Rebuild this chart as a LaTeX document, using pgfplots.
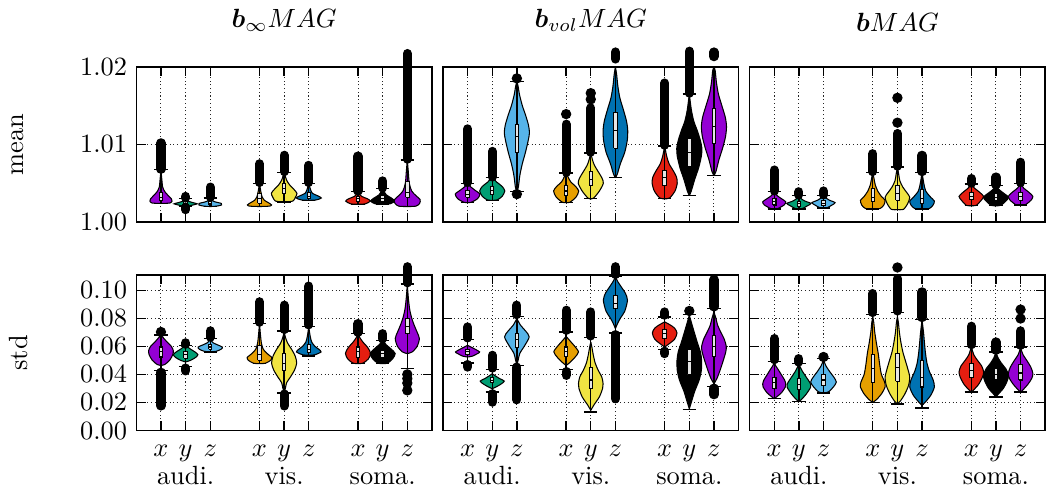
\documentclass[border=0pt]{standalone}
\usepackage{pgfplots}
\pgfplotsset{compat=1.18}
\usepackage{amsmath}
\usepackage{bm}
\definecolor{cVi}{RGB}{148,0,211}
\definecolor{cGr}{RGB}{0,158,115}
\definecolor{cSb}{RGB}{86,180,233}
\definecolor{cOr}{RGB}{230,159,0}
\definecolor{cYe}{RGB}{240,228,66}
\definecolor{cBl}{RGB}{0,114,178}
\definecolor{cRe}{RGB}{229,30,16}
\definecolor{cBk}{RGB}{0,0,0}
% violin half-shapes: #1 centre, #2 colour, #3 rows "y w\\"
\newcommand{\vio}[3]{%
  \addplot[fill=#2, draw=black, line width=0.4pt, smooth, tension=0.45] table[row sep=\\, x expr={#1+\thisrow{w}}, y=y] {y w\\ #3};
  \addplot[fill=#2, draw=black, line width=0.4pt, smooth, tension=0.45] table[row sep=\\, x expr={#1-\thisrow{w}}, y=y] {y w\\ #3};
}
% box: #1 centre, #2 lo, #3 q1, #4 med, #5 q3, #6 hi
\newcommand{\bx}[6]{%
  \addplot[black, line width=0.5pt] table[row sep=\\, x expr={#1+\thisrow{d}}, y=y] {d y\\ 0 #2\\ 0 #6\\};
  \addplot[black, line width=0.5pt] table[row sep=\\, x expr={#1+\thisrow{d}}, y=y] {d y\\ -0.27 #2\\ 0.27 #2\\};
  \addplot[black, line width=0.5pt] table[row sep=\\, x expr={#1+\thisrow{d}}, y=y] {d y\\ -0.27 #6\\ 0.27 #6\\};
  \addplot[draw=black, fill=white!80!gray, line width=0.4pt] table[row sep=\\, x expr={#1+\thisrow{d}}, y=y] {d y\\ -0.07 #3\\ 0.07 #3\\ 0.07 #5\\ -0.07 #5\\ -0.07 #3\\};
  \addplot[black, line width=0.4pt] table[row sep=\\, x expr={#1+\thisrow{d}}, y=y] {d y\\ -0.07 #4\\ 0.07 #4\\};
}
% outlier run: #1 centre, #2 from, #3 to
\newcommand{\ob}[3]{%
  \addplot[black, line width=3.5pt, line cap=round] table[row sep=\\, x expr={#1}, y=y] {y\\ #2\\ #3\\};
}
% single outliers
\newcommand{\op}[2]{%
  \addplot[black, only marks, mark=*, mark size=1.75pt] table[row sep=\\, x expr={#1}, y=y] {y\\ #2};
}
\pgfplotsset{
  vstyle/.style={
    scale only axis, width=112.1pt, height=58.9pt,
    xmin=0, xmax=12, xtick={1,2,3,5,6,7,9,10,11},
    grid=major, major grid style={densely dotted, black!85},
    axis line style={line width=0.6pt}, tick style={black, line width=0.5pt},
    major tick length=3.5pt, clip=false,
    every axis title/.style={at={(0.5,1)}, anchor=south, yshift=10pt},
    every axis y label/.style={at={(axis description cs:-0.40,0.5)}, rotate=90, anchor=center},
    yticklabel style={/pgf/number format/.cd, fixed, fixed zerofill, precision=2},
  },
  toprow/.style={vstyle, ymin=1.00, ymax=1.02, ytick={1.00,1.01,1.02}, xticklabels={}},
  botrow/.style={vstyle, ymin=0, ymax=0.1107, ytick={0,0.02,0.04,0.06,0.08,0.10},
    xticklabels={{$x$\\[-1.5pt]\strut},{$y$\\[-1.5pt]audi.},{$z$\\[-1.5pt]\strut},{$x$\\[-1.5pt]\strut},{$y$\\[-1.5pt]vis.},{$z$\\[-1.5pt]\strut},{$x$\\[-1.5pt]\strut},{$y$\\[-1.5pt]soma.},{$z$\\[-1.5pt]\strut}},
    xticklabel style={align=center, anchor=north, yshift=-2pt}},
}
\begin{document}
\begin{tikzpicture}
%================ top-left: b_inf mean
\begin{axis}[toprow, at={(0pt,79.04pt)}, anchor=south west, title={$\bm{b}_{\infty}MAG$}, ylabel={mean}]
\vio{1}{cVi}{1.0024 0\\ 1.00245 0.36\\ 1.0027 0.45\\ 1.0030 0.42\\ 1.0034 0.3\\ 1.0039 0.16\\ 1.0045 0.07\\ 1.0055 0.035\\ 1.0067 0\\}
\bx{1}{1.0024}{1.0028}{1.0032}{1.0038}{1.00675}
\ob{1}{1.0068}{1.0102}
\vio{2}{cGr}{1.0020 0\\ 1.00205 0.1\\ 1.0022 0.3\\ 1.00235 0.47\\ 1.0025 0.3\\ 1.0027 0.1\\ 1.0029 0\\}
\bx{2}{1.0020}{1.0022}{1.0024}{1.0026}{1.0030}
\ob{2}{1.0031}{1.0033}
\ob{2}{1.0016}{1.0019}
\vio{3}{cSb}{1.0020 0\\ 1.00205 0.25\\ 1.0022 0.46\\ 1.0024 0.45\\ 1.0026 0.2\\ 1.0028 0.06\\ 1.0031 0\\}
\bx{3}{1.0020}{1.0022}{1.0024}{1.0026}{1.0031}
\ob{3}{1.0032}{1.0045}
\vio{5}{cOr}{1.0020 0\\ 1.00205 0.4\\ 1.0022 0.49\\ 1.0025 0.36\\ 1.0028 0.2\\ 1.0033 0.1\\ 1.0040 0.05\\ 1.0050 0\\}
\bx{5}{1.0020}{1.0024}{1.0030}{1.0037}{1.0050}
\ob{5}{1.0051}{1.0075}
\vio{6}{cYe}{1.0026 0\\ 1.0027 0.35\\ 1.0032 0.46\\ 1.0037 0.52\\ 1.0042 0.4\\ 1.0048 0.22\\ 1.0054 0.1\\ 1.0060 0.04\\ 1.0064 0\\}
\bx{6}{1.0026}{1.0037}{1.0043}{1.0050}{1.0064}
\ob{6}{1.0065}{1.0086}
\vio{7}{cBl}{1.0028 0\\ 1.00285 0.3\\ 1.0031 0.51\\ 1.0034 0.35\\ 1.0037 0.15\\ 1.0042 0.07\\ 1.0050 0\\}
\bx{7}{1.0028}{1.0030}{1.0033}{1.0038}{1.0050}
\ob{7}{1.0051}{1.0073}
\vio{9}{cRe}{1.0023 0\\ 1.00235 0.3\\ 1.0027 0.5\\ 1.0030 0.38\\ 1.0033 0.15\\ 1.0036 0.05\\ 1.0039 0\\}
\bx{9}{1.0023}{1.0026}{1.0030}{1.0033}{1.0039}
\ob{9}{1.0040}{1.0085}
\vio{10}{cBk}{1.0023 0\\ 1.00235 0.3\\ 1.0027 0.49\\ 1.0031 0.35\\ 1.0035 0.15\\ 1.0040 0.05\\ 1.0043 0\\}
\bx{10}{1.0023}{1.0026}{1.0030}{1.0034}{1.0043}
\ob{10}{1.0044}{1.0053}
\vio{11}{cVi}{1.0020 0\\ 1.00205 0.35\\ 1.0024 0.5\\ 1.0029 0.52\\ 1.0034 0.35\\ 1.0040 0.18\\ 1.0050 0.08\\ 1.0065 0.04\\ 1.0080 0\\}
\bx{11}{1.0020}{1.0032}{1.0038}{1.0052}{1.0080}
\ob{11}{1.0081}{1.0217}
\end{axis}
%================ top-middle: b_vol mean
\begin{axis}[toprow, at={(116.28pt,79.04pt)}, anchor=south west, title={$\bm{b}_{vol}MAG$}, yticklabels={}]
\vio{1}{cVi}{1.0025 0\\ 1.00255 0.15\\ 1.0030 0.4\\ 1.0036 0.5\\ 1.0041 0.3\\ 1.0046 0.1\\ 1.0050 0\\}
\bx{1}{1.0025}{1.0032}{1.0035}{1.0041}{1.0050}
\ob{1}{1.0051}{1.0120}
\vio{2}{cGr}{1.0028 0\\ 1.00285 0.2\\ 1.0033 0.4\\ 1.0040 0.51\\ 1.0046 0.4\\ 1.0051 0.2\\ 1.0055 0.08\\ 1.0057 0\\}
\bx{2}{1.0028}{1.0035}{1.0041}{1.0046}{1.0057}
\ob{2}{1.0058}{1.0091}
\vio{3}{cSb}{1.0039 0\\ 1.0045 0.06\\ 1.0060 0.12\\ 1.0075 0.22\\ 1.0090 0.35\\ 1.0105 0.46\\ 1.0115 0.51\\ 1.0125 0.47\\ 1.0138 0.35\\ 1.0150 0.22\\ 1.0165 0.1\\ 1.0175 0.05\\ 1.0181 0\\}
\bx{3}{1.0039}{1.0090}{1.0110}{1.0126}{1.0181}
\op{3}{1.0036\\ 1.0185\\}
\vio{5}{cOr}{1.0025 0\\ 1.00255 0.15\\ 1.0032 0.4\\ 1.0040 0.51\\ 1.0046 0.38\\ 1.0052 0.18\\ 1.0058 0.08\\ 1.0063 0\\}
\bx{5}{1.0025}{1.0034}{1.0040}{1.0047}{1.0063}
\ob{5}{1.0064}{1.0126}
\op{5}{1.0139\\}
\vio{6}{cYe}{1.0030 0\\ 1.0031 0.12\\ 1.0040 0.35\\ 1.0050 0.51\\ 1.0057 0.45\\ 1.0065 0.3\\ 1.0073 0.15\\ 1.0080 0.07\\ 1.0089 0\\}
\bx{6}{1.0030}{1.0047}{1.0055}{1.0065}{1.0089}
\ob{6}{1.0090}{1.0147}
\op{6}{1.0158\\ 1.0166\\}
\vio{7}{cBl}{1.0057 0\\ 1.0062 0.08\\ 1.0075 0.2\\ 1.0090 0.38\\ 1.0105 0.48\\ 1.0118 0.5\\ 1.0130 0.45\\ 1.0145 0.32\\ 1.0160 0.18\\ 1.0175 0.1\\ 1.0190 0.05\\ 1.0200 0\\}
\bx{7}{1.0057}{1.0095}{1.0118}{1.0141}{1.0200}
\ob{7}{1.0210}{1.0219}
\vio{9}{cRe}{1.0030 0\\ 1.0031 0.2\\ 1.0040 0.42\\ 1.0050 0.51\\ 1.0058 0.48\\ 1.0066 0.35\\ 1.0075 0.18\\ 1.0085 0.08\\ 1.0098 0\\}
\bx{9}{1.0030}{1.0047}{1.0057}{1.0067}{1.0098}
\ob{9}{1.0099}{1.0179}
\vio{10}{cBk}{1.0034 0\\ 1.0040 0.08\\ 1.0055 0.22\\ 1.0070 0.38\\ 1.0085 0.49\\ 1.0095 0.51\\ 1.0105 0.45\\ 1.0118 0.32\\ 1.0130 0.18\\ 1.0145 0.08\\ 1.0165 0\\}
\bx{10}{1.0034}{1.0071}{1.0090}{1.0108}{1.0165}
\ob{10}{1.0166}{1.0220}
\vio{11}{cVi}{1.0060 0\\ 1.0065 0.08\\ 1.0080 0.2\\ 1.0095 0.35\\ 1.0110 0.47\\ 1.0123 0.51\\ 1.0135 0.46\\ 1.0150 0.32\\ 1.0165 0.18\\ 1.0180 0.1\\ 1.0195 0.05\\ 1.0200 0\\}
\bx{11}{1.0060}{1.0101}{1.0123}{1.0146}{1.0200}
\ob{11}{1.0213}{1.0219}
\end{axis}
%================ top-right: b mean
\begin{axis}[toprow, at={(232.56pt,79.04pt)}, anchor=south west, title={$\bm{b}MAG$}, yticklabels={}]
\vio{1}{cVi}{1.0017 0\\ 1.00175 0.15\\ 1.0022 0.4\\ 1.0026 0.47\\ 1.0030 0.3\\ 1.0034 0.12\\ 1.0039 0\\}
\bx{1}{1.0017}{1.0022}{1.0026}{1.0030}{1.0039}
\ob{1}{1.0040}{1.0067}
\vio{2}{cGr}{1.0017 0\\ 1.00175 0.15\\ 1.0021 0.35\\ 1.0024 0.49\\ 1.0027 0.25\\ 1.0030 0.1\\ 1.0034 0\\}
\bx{2}{1.0017}{1.0020}{1.0024}{1.0027}{1.0034}
\ob{2}{1.0035}{1.0039}
\vio{3}{cSb}{1.0018 0\\ 1.00185 0.15\\ 1.0022 0.35\\ 1.0025 0.47\\ 1.0028 0.25\\ 1.0031 0.1\\ 1.0034 0\\}
\bx{3}{1.0018}{1.0021}{1.0024}{1.0028}{1.0034}
\ob{3}{1.0035}{1.0040}
\vio{5}{cOr}{1.0017 0\\ 1.00175 0.3\\ 1.0022 0.45\\ 1.0028 0.5\\ 1.0033 0.35\\ 1.0040 0.2\\ 1.0048 0.1\\ 1.0056 0.05\\ 1.0064 0\\}
\bx{5}{1.0017}{1.0026}{1.0032}{1.0043}{1.0064}
\ob{5}{1.0065}{1.0088}
\vio{6}{cYe}{1.0016 0\\ 1.00165 0.25\\ 1.0024 0.42\\ 1.0032 0.5\\ 1.0038 0.38\\ 1.0045 0.22\\ 1.0053 0.1\\ 1.0062 0.05\\ 1.0071 0\\}
\bx{6}{1.0016}{1.0028}{1.0037}{1.0047}{1.0071}
\ob{6}{1.0072}{1.0114}
\op{6}{1.0128\\ 1.0160\\}
\vio{7}{cBl}{1.0017 0\\ 1.00175 0.3\\ 1.0022 0.45\\ 1.0027 0.5\\ 1.0032 0.35\\ 1.0040 0.15\\ 1.0050 0.07\\ 1.0064 0\\}
\bx{7}{1.0017}{1.0024}{1.0030}{1.0042}{1.0064}
\ob{7}{1.0065}{1.0086}
\vio{9}{cRe}{1.0021 0\\ 1.00215 0.2\\ 1.0028 0.4\\ 1.0033 0.5\\ 1.0038 0.35\\ 1.0044 0.12\\ 1.0049 0\\}
\bx{9}{1.0021}{1.0029}{1.0033}{1.0038}{1.0049}
\ob{9}{1.0050}{1.0056}
\vio{10}{cBk}{1.0021 0\\ 1.00215 0.2\\ 1.0027 0.4\\ 1.0032 0.51\\ 1.0037 0.32\\ 1.0042 0.12\\ 1.0047 0\\}
\bx{10}{1.0021}{1.0028}{1.0032}{1.0037}{1.0047}
\ob{10}{1.0048}{1.0058}
\vio{11}{cVi}{1.0022 0\\ 1.00225 0.2\\ 1.0028 0.42\\ 1.0033 0.5\\ 1.0038 0.35\\ 1.0044 0.12\\ 1.0050 0\\}
\bx{11}{1.0022}{1.0028}{1.0033}{1.0038}{1.0050}
\ob{11}{1.0051}{1.0077}
\end{axis}
%================ bottom-left: b_inf std
\begin{axis}[botrow, at={(0pt,0pt)}, anchor=south west, ylabel={std}]
\vio{1}{cVi}{0.0464 0\\ 0.047 0.15\\ 0.050 0.35\\ 0.054 0.48\\ 0.057 0.5\\ 0.060 0.42\\ 0.063 0.25\\ 0.066 0.1\\ 0.068 0\\}
\bx{1}{0.0429}{0.0524}{0.0560}{0.0595}{0.0680}
\ob{1}{0.0175}{0.0415}
\op{1}{0.0702\\}
\vio{2}{cGr}{0.0488 0\\ 0.050 0.2\\ 0.052 0.4\\ 0.054 0.5\\ 0.056 0.38\\ 0.058 0.2\\ 0.0607 0\\}
\bx{2}{0.0457}{0.0515}{0.0540}{0.0565}{0.0607}
\ob{2}{0.0615}{0.0625}
\ob{2}{0.0425}{0.0445}
\vio{3}{cSb}{0.0560 0\\ 0.0565 0.25\\ 0.058 0.45\\ 0.0595 0.49\\ 0.061 0.3\\ 0.0625 0.12\\ 0.064 0.04\\ 0.0655 0\\}
\bx{3}{0.0560}{0.0580}{0.0595}{0.0610}{0.0655}
\ob{3}{0.0665}{0.0710}
\vio{5}{cOr}{0.0476 0\\ 0.048 0.25\\ 0.050 0.45\\ 0.052 0.5\\ 0.055 0.3\\ 0.058 0.15\\ 0.062 0.08\\ 0.068 0.04\\ 0.0762 0\\}
\bx{5}{0.0476}{0.0500}{0.0545}{0.0605}{0.0762}
\ob{5}{0.0772}{0.0917}
\vio{6}{cYe}{0.0274 0\\ 0.030 0.05\\ 0.034 0.1\\ 0.038 0.25\\ 0.043 0.42\\ 0.048 0.51\\ 0.053 0.45\\ 0.058 0.3\\ 0.062 0.15\\ 0.066 0.06\\ 0.0702 0\\}
\bx{6}{0.0267}{0.0429}{0.0480}{0.0548}{0.0710}
\ob{6}{0.0720}{0.0893}
\ob{6}{0.0175}{0.0260}
\vio{7}{cBl}{0.0536 0\\ 0.054 0.25\\ 0.056 0.5\\ 0.058 0.4\\ 0.060 0.25\\ 0.063 0.12\\ 0.067 0.06\\ 0.0738 0\\}
\bx{7}{0.0531}{0.0555}{0.0580}{0.0610}{0.0743}
\ob{7}{0.0753}{0.1029}
\vio{9}{cRe}{0.0476 0\\ 0.048 0.2\\ 0.051 0.42\\ 0.055 0.51\\ 0.059 0.4\\ 0.063 0.2\\ 0.066 0.08\\ 0.069 0\\}
\bx{9}{0.0476}{0.0520}{0.0560}{0.0595}{0.0690}
\ob{9}{0.0700}{0.0762}
\vio{10}{cBk}{0.0476 0\\ 0.048 0.2\\ 0.051 0.4\\ 0.0548 0.51\\ 0.058 0.35\\ 0.061 0.15\\ 0.0643 0\\}
\bx{10}{0.0476}{0.0520}{0.0548}{0.0570}{0.0643}
\ob{10}{0.0653}{0.0690}
\vio{11}{cVi}{0.0548 0\\ 0.056 0.2\\ 0.060 0.4\\ 0.0655 0.49\\ 0.070 0.4\\ 0.075 0.28\\ 0.080 0.18\\ 0.086 0.1\\ 0.093 0.05\\ 0.1036 0\\}
\bx{11}{0.0440}{0.0690}{0.0740}{0.0798}{0.1043}
\ob{11}{0.1053}{0.1167}
\op{11}{0.0400\\ 0.0370\\ 0.0338\\ 0.0286\\}
\end{axis}
%================ bottom-middle: b_vol std
\begin{axis}[botrow, at={(116.28pt,0pt)}, anchor=south west, yticklabels={}]
\vio{1}{cVi}{0.0524 0\\ 0.053 0.2\\ 0.055 0.42\\ 0.056 0.49\\ 0.058 0.3\\ 0.0607 0\\}
\bx{1}{0.0481}{0.0540}{0.0560}{0.0580}{0.0648}
\ob{1}{0.0660}{0.0738}
\ob{1}{0.0452}{0.0470}
\vio{2}{cGr}{0.0298 0\\ 0.031 0.15\\ 0.033 0.35\\ 0.0352 0.49\\ 0.037 0.3\\ 0.039 0.12\\ 0.0405 0\\}
\bx{2}{0.0274}{0.0340}{0.0355}{0.0375}{0.0433}
\ob{2}{0.0445}{0.0536}
\ob{2}{0.0202}{0.0262}
\vio{3}{cSb}{0.0464 0\\ 0.050 0.05\\ 0.055 0.12\\ 0.060 0.3\\ 0.0667 0.5\\ 0.071 0.35\\ 0.075 0.15\\ 0.0798 0\\}
\bx{3}{0.0464}{0.0590}{0.0650}{0.0690}{0.0814}
\ob{3}{0.0826}{0.0893}
\ob{3}{0.0219}{0.0452}
\vio{5}{cOr}{0.0464 0\\ 0.048 0.12\\ 0.052 0.35\\ 0.056 0.5\\ 0.060 0.35\\ 0.064 0.15\\ 0.0671 0\\}
\bx{5}{0.0433}{0.0530}{0.0560}{0.0595}{0.0702}
\ob{5}{0.0714}{0.0857}
\ob{5}{0.0393}{0.0420}
\vio{6}{cYe}{0.0143 0\\ 0.018 0.12\\ 0.024 0.35\\ 0.030 0.48\\ 0.0333 0.5\\ 0.038 0.45\\ 0.043 0.3\\ 0.048 0.18\\ 0.054 0.1\\ 0.059 0.05\\ 0.0631 0\\}
\bx{6}{0.0131}{0.0298}{0.0360}{0.0452}{0.0662}
\ob{6}{0.0674}{0.0845}
\vio{7}{cBl}{0.0726 0\\ 0.076 0.08\\ 0.080 0.2\\ 0.085 0.38\\ 0.0929 0.49\\ 0.098 0.4\\ 0.102 0.25\\ 0.106 0.1\\ 0.1095 0\\}
\bx{7}{0.0695}{0.0869}{0.0905}{0.0964}{0.1100}
\ob{7}{0.1112}{0.1167}
\ob{7}{0.0226}{0.0683}
\vio{9}{cRe}{0.0595 0\\ 0.061 0.12\\ 0.065 0.4\\ 0.0695 0.5\\ 0.073 0.4\\ 0.0755 0.2\\ 0.0774 0\\}
\bx{9}{0.0576}{0.0655}{0.0690}{0.0720}{0.0810}
\ob{9}{0.0822}{0.0845}
\ob{9}{0.0548}{0.0565}
\vio{10}{cBk}{0.0155 0\\ 0.020 0.08\\ 0.028 0.22\\ 0.036 0.4\\ 0.043 0.49\\ 0.050 0.5\\ 0.056 0.45\\ 0.063 0.32\\ 0.070 0.2\\ 0.076 0.1\\ 0.0821 0\\}
\bx{10}{0.0150}{0.0400}{0.0490}{0.0580}{0.0829}
\op{10}{0.0852\\}
\vio{11}{cVi}{0.0333 0\\ 0.037 0.12\\ 0.043 0.25\\ 0.050 0.38\\ 0.056 0.48\\ 0.060 0.5\\ 0.065 0.42\\ 0.070 0.28\\ 0.075 0.15\\ 0.080 0.08\\ 0.0845 0\\}
\bx{11}{0.0314}{0.0530}{0.0600}{0.0680}{0.0869}
\ob{11}{0.0881}{0.1076}
\ob{11}{0.0255}{0.0302}
\end{axis}
%================ bottom-right: b std
\begin{axis}[botrow, at={(232.56pt,0pt)}, anchor=south west, yticklabels={}]
\vio{1}{cVi}{0.0226 0\\ 0.024 0.1\\ 0.027 0.3\\ 0.031 0.45\\ 0.033 0.47\\ 0.036 0.42\\ 0.040 0.28\\ 0.044 0.14\\ 0.0464 0.05\\ 0.0493 0\\}
\bx{1}{0.0226}{0.0298}{0.0340}{0.0381}{0.0493}
\ob{1}{0.0505}{0.0655}
\vio{2}{cGr}{0.0207 0\\ 0.022 0.1\\ 0.026 0.3\\ 0.031 0.48\\ 0.034 0.45\\ 0.038 0.3\\ 0.042 0.15\\ 0.045 0.06\\ 0.0476 0\\}
\bx{2}{0.0207}{0.0290}{0.0330}{0.0370}{0.0476}
\ob{2}{0.0488}{0.0512}
\vio{3}{cSb}{0.0267 0\\ 0.0275 0.2\\ 0.031 0.4\\ 0.0345 0.52\\ 0.038 0.42\\ 0.042 0.25\\ 0.046 0.1\\ 0.0485 0.04\\ 0.0512 0\\}
\bx{3}{0.0267}{0.0320}{0.0360}{0.0400}{0.0512}
\op{3}{0.0524\\}
\vio{5}{cOr}{0.0200 0\\ 0.022 0.15\\ 0.026 0.35\\ 0.031 0.5\\ 0.0345 0.48\\ 0.040 0.35\\ 0.047 0.28\\ 0.055 0.22\\ 0.062 0.15\\ 0.070 0.08\\ 0.077 0.04\\ 0.081 0\\}
\bx{5}{0.0200}{0.0345}{0.0445}{0.0543}{0.0829}
\ob{5}{0.0841}{0.0976}
\vio{6}{cYe}{0.0190 0\\ 0.021 0.12\\ 0.026 0.3\\ 0.032 0.45\\ 0.038 0.5\\ 0.044 0.42\\ 0.050 0.32\\ 0.056 0.22\\ 0.063 0.14\\ 0.070 0.08\\ 0.077 0.04\\ 0.081 0\\}
\bx{6}{0.0190}{0.0350}{0.0450}{0.0548}{0.0840}
\ob{6}{0.0852}{0.1083}
\op{6}{0.1162\\}
\vio{7}{cBl}{0.0179 0\\ 0.020 0.12\\ 0.025 0.35\\ 0.031 0.5\\ 0.036 0.45\\ 0.042 0.3\\ 0.048 0.2\\ 0.055 0.14\\ 0.062 0.1\\ 0.070 0.06\\ 0.0786 0\\}
\bx{7}{0.0160}{0.0310}{0.0380}{0.0500}{0.0793}
\ob{7}{0.0805}{0.0988}
\vio{9}{cRe}{0.0274 0\\ 0.029 0.1\\ 0.033 0.3\\ 0.038 0.45\\ 0.0417 0.5\\ 0.046 0.42\\ 0.050 0.25\\ 0.054 0.1\\ 0.058 0.03\\ 0.060 0\\}
\bx{9}{0.0274}{0.0375}{0.0430}{0.0475}{0.0600}
\ob{9}{0.0612}{0.0743}
\vio{10}{cBk}{0.0238 0\\ 0.026 0.1\\ 0.030 0.3\\ 0.035 0.45\\ 0.0393 0.51\\ 0.044 0.4\\ 0.048 0.22\\ 0.052 0.08\\ 0.056 0\\}
\bx{10}{0.0238}{0.0360}{0.0400}{0.0440}{0.0560}
\ob{10}{0.0572}{0.0631}
\vio{11}{cVi}{0.0274 0\\ 0.029 0.1\\ 0.033 0.3\\ 0.037 0.45\\ 0.0405 0.5\\ 0.045 0.42\\ 0.050 0.25\\ 0.054 0.1\\ 0.058 0.02\\ 0.0595 0\\}
\bx{11}{0.0274}{0.0360}{0.0410}{0.0470}{0.0595}
\ob{11}{0.0607}{0.0710}
\op{11}{0.0798\\ 0.0862\\}
\end{axis}
\end{tikzpicture}
\end{document}
